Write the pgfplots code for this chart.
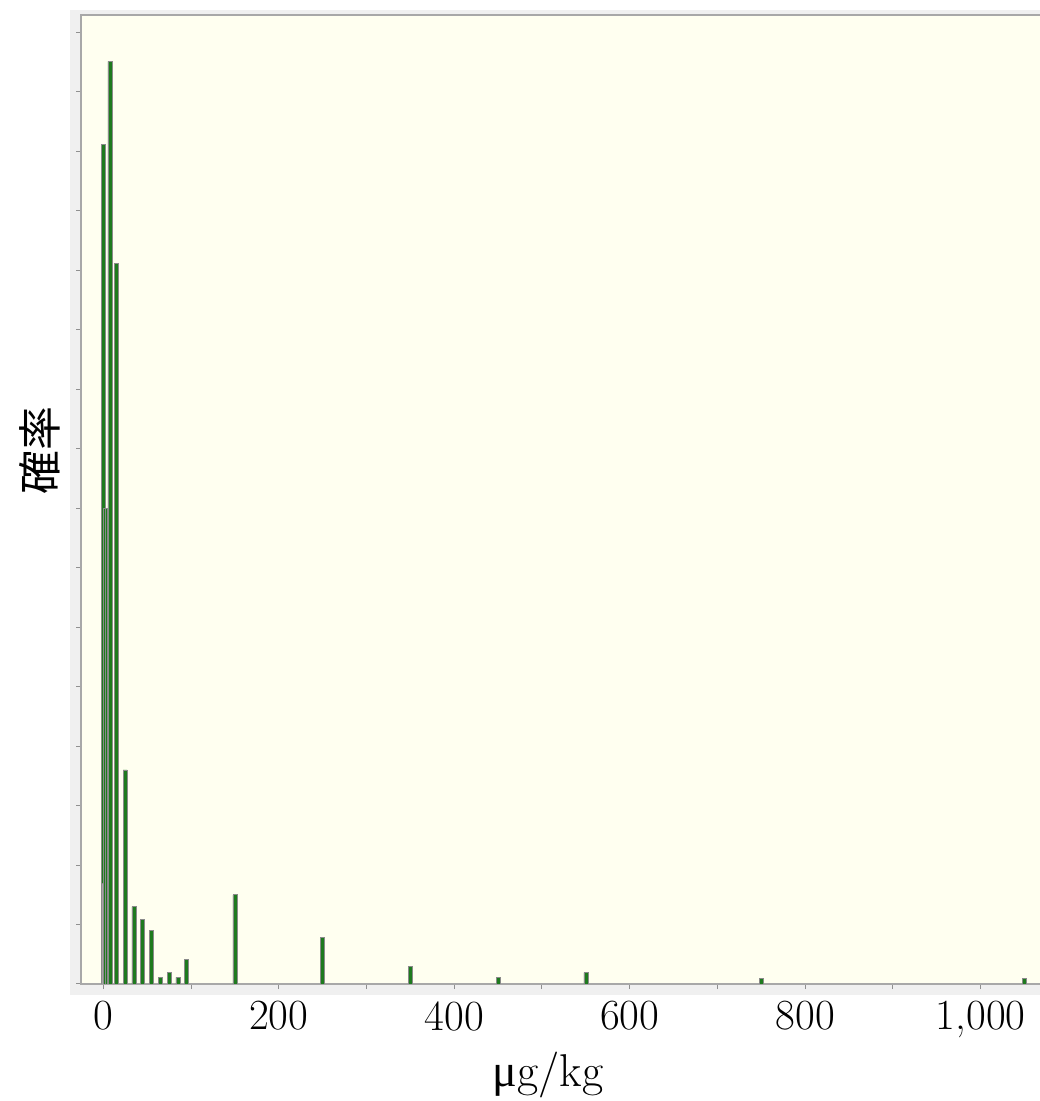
\documentclass[border=0pt]{standalone}
\usepackage{fontspec}
\usepackage{pgfplots}
\pgfplotsset{compat=1.18}
\newfontfamily\cjk{Noto Sans CJK JP}
\newfontfamily\libserif{Liberation Serif}
\definecolor{band}{HTML}{F0F0F0}
\definecolor{plotbg}{HTML}{FFFFF0}
\definecolor{frame}{HTML}{A8A8A8}
\definecolor{tickc}{HTML}{909090}
\definecolor{bargreen}{HTML}{1E7A1E}
\definecolor{baredge}{HTML}{8A8A8A}
\begin{document}
\begin{tikzpicture}[x=1pt,y=1pt]
\useasboundingbox (0,0) rectangle (1040,1101);
\fill[band] (70,106) rectangle (1100,1091);
\begin{axis}[
  at={(81pt,117pt)}, anchor=south west,
  scale only axis, width=965.5pt, height=969pt,
  xmin=-25.4, xmax=1075, ymin=0, ymax=16.29,
  axis background/.style={fill=plotbg},
  axis line style={frame, line width=1.5pt},
  tick align=outside, tick style={tickc, line width=1pt},
  major tick length=5pt, minor tick length=5pt,
  xtick={0,200,...,1000}, minor xtick={100,300,...,900},
  ytick={0,1,...,16}, yticklabels={},
  xtick pos=bottom, ytick pos=left,
  xticklabel={\pgfmathprintnumber[assume math mode=true]{\tick}},
  tick label style={font=\fontsize{43}{50}\selectfont},
  xticklabel style={yshift=-9pt},
  xlabel={{\libserif μ}g/kg},
  xlabel style={font=\fontsize{46}{54}\selectfont, at={(axis description cs:0.4837,-0.0939)}, anchor=center},
  ylabel={\cjk 確率},
  ylabel style={font=\fontsize{44}{50}\selectfont, at={(axis description cs:-0.0425,0.551)}, anchor=center, rotate=0},
]
\addplot[ybar, bar width=4pt, bar shift=0pt, fill=bargreen, draw=baredge, line width=0.6pt] coordinates {
(0,14.11) (2.5,8.0) (7.5,15.51) (15,12.11) (25,3.60) (35,1.30) (45,1.09) (55,0.90)
(65,0.11) (75,0.19) (85,0.11) (95,0.415) (150,1.50) (250,0.785) (350,0.30)
(450,0.106) (550,0.19) (750,0.10) (1050,0.10)
};
\addplot[ybar, bar width=2pt, bar shift=-1pt, fill=gray!70, draw=baredge, line width=0.4pt] coordinates {
(0,1.70)
};
\end{axis}
\end{tikzpicture}
\end{document}
